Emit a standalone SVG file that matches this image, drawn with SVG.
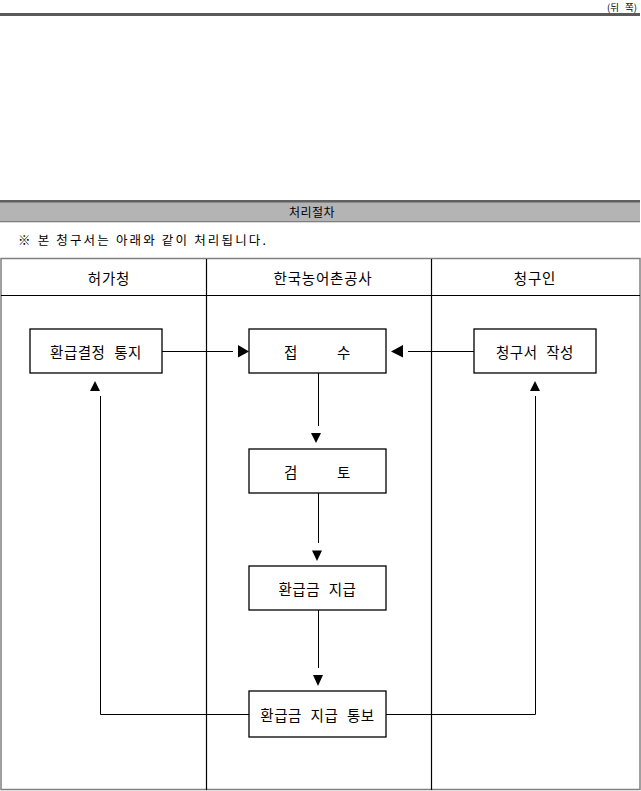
<svg xmlns="http://www.w3.org/2000/svg" width="641" height="791" viewBox="0 0 641 791">
<style>
text{font-family:"Noto Sans CJK KR","Liberation Sans",sans-serif;fill:#000}
.box{fill:#fff;stroke:#000;stroke-width:1.3}
.bt{font-size:14.5px;text-anchor:middle;dominant-baseline:central;word-spacing:5px;letter-spacing:0.5px}
.bs{font-size:14.5px;dominant-baseline:central}
.hd{font-size:14.5px;text-anchor:middle;dominant-baseline:central;letter-spacing:0.8px}
.ln{stroke:#000;stroke-width:1;fill:none}
.ah{fill:#000}
.grid{stroke:#000;stroke-width:1.2}
.gb{stroke:#808080;stroke-width:1.5;fill:none}
</style>
<rect width="641" height="791" fill="#fff"/>
<g id="page-header">
<text x="637" y="6.5" font-size="9.5" text-anchor="end" dominant-baseline="central" fill="#333" word-spacing="4">(뒤 쪽)</text>
<rect x="0" y="13" width="640" height="3" fill="#5a5a5a"/>
</g>
<g id="section-band">
<rect x="0" y="201" width="640" height="21" fill="#b4b4b4"/>
<rect x="0" y="200" width="640" height="2.5" fill="#606060"/>
<rect x="0" y="221" width="640" height="1.3" fill="#808080"/>
<text x="312" y="211.5" font-size="12" text-anchor="middle" dominant-baseline="central" letter-spacing="0.5">처리절차</text>
</g>
<text id="note" x="18" y="239.5" font-size="12.5" dominant-baseline="central" textLength="248" lengthAdjust="spacing">※ 본 청구서는 아래와 같이 처리됩니다.</text>
<g id="table">
<rect class="gb" x="1" y="258.5" width="639" height="531"/>
<line class="grid" x1="1" y1="295.5" x2="640" y2="295.5"/>
<line class="grid" x1="206.5" y1="259" x2="206.5" y2="790"/>
<line class="grid" x1="431.5" y1="259" x2="431.5" y2="790"/>
<text class="hd" x="109" y="277">허가청</text>
<text class="hd" x="323" y="277">한국농어촌공사</text>
<text class="hd" x="535" y="277">청구인</text>
</g>
<g id="connectors">
<line class="ln" x1="162" y1="351.5" x2="233" y2="351.5"/>
<polygon class="ah" points="238,345 238,357.5 249,351.5"/>
<line class="ln" x1="408" y1="351.5" x2="474" y2="351.5"/>
<polygon class="ah" points="403,345 403,357.5 391,351.5"/>
<line class="ln" x1="318.5" y1="373" x2="318.5" y2="426"/>
<polygon class="ah" points="311,433 321,433 316,443"/>
<line class="ln" x1="318.5" y1="493" x2="318.5" y2="543"/>
<polygon class="ah" points="312,550.5 322,550.5 317,561"/>
<line class="ln" x1="318.5" y1="610" x2="318.5" y2="668"/>
<polygon class="ah" points="313,675 323,675 318,686"/>
<polyline class="ln" points="249,714.5 100.5,714.5 100.5,396"/>
<polygon class="ah" points="90,391 100,391 95,381"/>
<polyline class="ln" points="386,714.5 535.5,714.5 535.5,396"/>
<polygon class="ah" points="530,391 540,391 535,381"/>
</g>
<g id="node-notice">
<rect class="box" x="30" y="329" width="132" height="44"/>
<text class="bt" x="96" y="351">환급결정 통지</text>
</g>
<g id="node-receipt">
<rect class="box" x="249" y="329" width="137" height="44"/>
<text class="bs" y="351"><tspan x="284">접</tspan><tspan x="337">수</tspan></text>
</g>
<g id="node-write">
<rect class="box" x="474" y="329" width="122" height="44"/>
<text class="bt" x="535" y="351">청구서 작성</text>
</g>
<g id="node-review">
<rect class="box" x="249" y="449" width="137" height="44"/>
<text class="bs" y="471"><tspan x="284">검</tspan><tspan x="337">토</tspan></text>
</g>
<g id="node-pay">
<rect class="box" x="249" y="566" width="137" height="44"/>
<text class="bt" x="317.5" y="588">환급금 지급</text>
</g>
<g id="node-pay-notice">
<rect class="box" x="249" y="691" width="137" height="46"/>
<text class="bt" x="317.5" y="714">환급금 지급 통보</text>
</g>
</svg>
